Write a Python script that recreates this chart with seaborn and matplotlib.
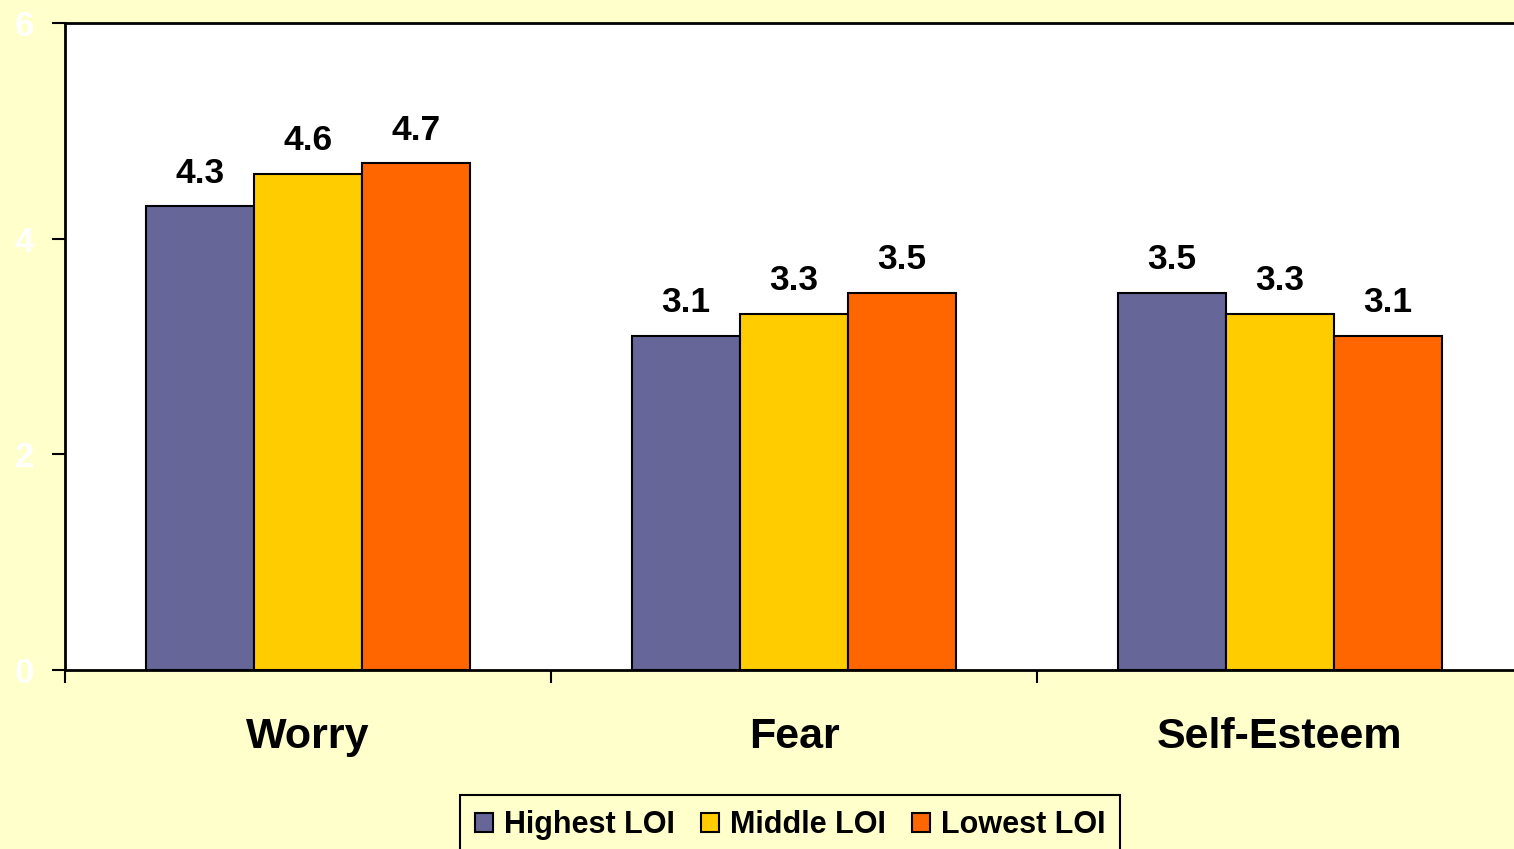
import matplotlib
matplotlib.use("Agg")
import matplotlib.pyplot as plt
import seaborn as sns
import pandas as pd
from matplotlib.ticker import FixedLocator

categories = ["Worry", "Fear", "Self-Esteem"]
groups = ["Highest LOI", "Middle LOI", "Lowest LOI"]
highest = [4.3, 3.1, 3.5]
middle = [4.6, 3.3, 3.3]
lowest = [4.7, 3.5, 3.1]
yticks = [0, 2, 4, 6]
colors = ["#666699", "#FFCC00", "#FF6600"]

rows = []
for g, vals in zip(groups, [highest, middle, lowest]):
    for c, v in zip(categories, vals):
        rows.append({"category": c, "group": g, "value": v})
df = pd.DataFrame(rows)

sns.set_style("white")
plt.rcParams["font.family"] = ["Liberation Sans", "DejaVu Sans"]
plt.rcParams["font.weight"] = "bold"
plt.rcParams["text.color"] = "black"
plt.rcParams["xtick.labelcolor"] = "black"

W, H = 1514, 849
fig = plt.figure(figsize=(W / 100, H / 100), dpi=100, facecolor="#FFFFCC")
ax = fig.add_axes([65 / W, 1 - 670 / H, 1458 / W, (670 - 23) / H])
ax.set_facecolor("white")

sns.barplot(data=df, x="category", y="value", hue="group", order=categories,
            hue_order=groups, palette=colors, saturation=1, width=0.667, gap=0,
            edgecolor="black", linewidth=1.5, ax=ax, legend=True)

for cont in ax.containers:
    ax.bar_label(cont, fmt="%.1f", padding=12, fontsize=25.5, fontweight="bold", color="black")

ax.set_xlim(-0.5, 2.5)
ax.set_ylim(0, 6)
ax.set_yticks(yticks)
ax.set_yticklabels([str(t) for t in yticks], color="white", fontsize=25, fontweight="bold")
ax.tick_params(axis="y", direction="out", length=9.5, width=1.5, color="black", pad=13, left=True)
ax.xaxis.set_minor_locator(FixedLocator([-0.5, 0.5, 1.5]))
ax.tick_params(axis="x", which="minor", direction="out", length=9.5, width=1.5, color="black", bottom=True)
ax.tick_params(axis="x", which="major", length=0, pad=34, labelsize=31, labelcolor="black")
for lbl in ax.get_xticklabels():
    lbl.set_fontweight("bold")
ax.set_xlabel("")
ax.set_ylabel("")

for side in ["left", "bottom", "top"]:
    ax.spines[side].set_visible(True)
    ax.spines[side].set_color("black")
    ax.spines[side].set_linewidth(2)
ax.spines["right"].set_visible(False)

ax.get_legend().remove()
handles = [plt.Rectangle((0, 0), 1, 1, facecolor=c, edgecolor="black", linewidth=1.5) for c in colors]
leg = fig.legend(handles, groups, loc="upper center", bbox_to_anchor=(790 / W, 1 - 795 / H),
                 ncol=3, frameon=True, fancybox=False, edgecolor="black", facecolor="#FFFFCC",
                 framealpha=1, prop={"family": "Liberation Sans", "weight": "bold", "size": 22},
                 handlelength=0.6, handleheight=0.6, handletextpad=0.35, columnspacing=0.85,
                 borderpad=0.5, borderaxespad=0)
leg.get_frame().set_linewidth(1.5)
for t in leg.get_texts():
    t.set_color("black")

fig.savefig("out.png", dpi=100, facecolor=fig.get_facecolor())
